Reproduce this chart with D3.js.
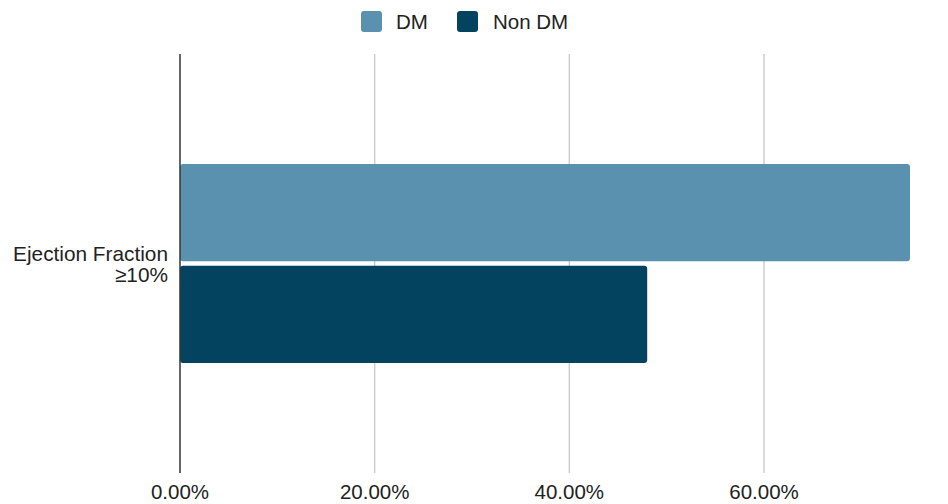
<!DOCTYPE html>
<html><head><meta charset="utf-8">
<script src="https://cdn.jsdelivr.net/npm/d3@7"></script>
<style>body{margin:0;background:#fff}svg{display:block;font-family:"Liberation Sans",Arial,sans-serif}</style>
</head><body><svg id="c" width="948" height="504"></svg>
<script>
const categories = ["Ejection Fraction\n≥10%"];
const seriesNames = ["DM", "Non DM"];
const dmValues = [0.75];
const nonDmValues = [0.48];
const tickValues = [0, 0.2, 0.4, 0.6];
const colors = ["#5a91ae", "#03435f"];

const svg = d3.select("#c");
const m = {l: 180, r: 910, t: 54, b: 473};
const x = d3.scaleLinear().domain([0, 0.75]).range([m.l, m.r]);
const y = d3.scaleBand().domain(categories).range([m.t, m.b]).paddingOuter(0.553);
const y1 = d3.scaleBand().domain(seriesNames).range([0, y.bandwidth()]).paddingInner(0.045);
const series = [dmValues, nonDmValues];

// gridlines
svg.append("g").selectAll("line").data(tickValues.filter(d => d > 0)).join("line")
  .attr("x1", d => x(d)).attr("x2", d => x(d)).attr("y1", m.t).attr("y2", m.b)
  .attr("stroke", "#cccccc").attr("stroke-width", 1.5);

// bars
categories.forEach((c, i) => {
  series.forEach((s, j) => {
    svg.append("rect").attr("x", x(0)).attr("y", y(c) + y1(seriesNames[j]))
      .attr("width", x(s[i]) - x(0)).attr("height", y1.bandwidth())
      .attr("rx", 3).attr("fill", colors[j]);
  });
  const center = y(c) + y.bandwidth() / 2;
  const lines = c.split("\n");
  const t = svg.append("text").attr("text-anchor", "end").attr("font-size", 20.8).attr("fill", "#222");
  lines.forEach((ln, k) => {
    t.append("tspan").attr("x", 168).attr("y", center - 3 + k * 21).text(ln);
  });
});

// zero axis line
svg.append("line").attr("x1", x(0)).attr("x2", x(0)).attr("y1", m.t).attr("y2", m.b)
  .attr("stroke", "#333").attr("stroke-width", 1.5);

// x tick labels
const fmt = d3.format(".2%");
svg.append("g").selectAll("text").data(tickValues).join("text")
  .attr("x", d => x(d)).attr("y", 499).attr("text-anchor", "middle")
  .attr("font-size", 20.5).attr("fill", "#222").text(d => fmt(d));

// legend
const leg = [{n: seriesNames[0], sx: 361, tx: 396}, {n: seriesNames[1], sx: 457, tx: 493}];
leg.forEach((d, j) => {
  svg.append("rect").attr("x", d.sx).attr("y", 11).attr("width", 21).attr("height", 21)
    .attr("rx", 3).attr("fill", colors[j]);
  svg.append("text").attr("x", d.tx).attr("y", 28.5).attr("font-size", 20.5).attr("fill", "#222").text(d.n);
});
</script></body></html>
